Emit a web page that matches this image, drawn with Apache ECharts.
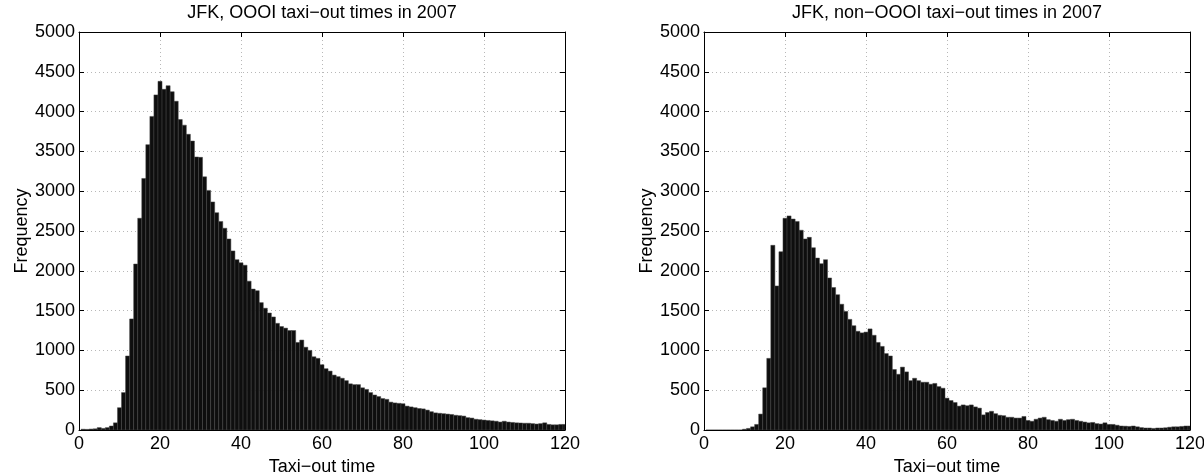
<!DOCTYPE html>
<html>
<head>
<meta charset="utf-8">
<script src="https://cdn.jsdelivr.net/npm/echarts@6/dist/echarts.min.js"></script>
<style>
  html, body { margin: 0; padding: 0; background: #ffffff; }
  #chart { width: 1204px; height: 474px; }
</style>
</head>
<body>
<div id="chart"></div>
<script>
// Histogram bins: one-minute bins centred on whole minutes
const binCenters = [
  1, 2, 3, 4, 5, 6, 7, 8, 9, 10, 11, 12, 13, 14, 15, 16, 17, 18, 19, 20,
  21, 22, 23, 24, 25, 26, 27, 28, 29, 30, 31, 32, 33, 34, 35, 36, 37, 38, 39, 40,
  41, 42, 43, 44, 45, 46, 47, 48, 49, 50, 51, 52, 53, 54, 55, 56, 57, 58, 59, 60,
  61, 62, 63, 64, 65, 66, 67, 68, 69, 70, 71, 72, 73, 74, 75, 76, 77, 78, 79, 80,
  81, 82, 83, 84, 85, 86, 87, 88, 89, 90, 91, 92, 93, 94, 95, 96, 97, 98, 99, 100,
  101, 102, 103, 104, 105, 106, 107, 108, 109, 110, 111, 112, 113, 114, 115, 116, 117, 118, 119, 120
];

// OOOI taxi-out frequencies
const oooiCounts = [
  10, 8, 12, 15, 30, 20, 30, 50, 90, 280, 470, 930, 1395, 2085, 2660, 3160, 3585, 3940, 4210, 4380,
  4280, 4325, 4250, 4130, 3900, 3830, 3715, 3630, 3430, 3425, 3180, 3010, 2865, 2730, 2620, 2535, 2400, 2250, 2140, 2100,
  2070, 1870, 1770, 1750, 1600, 1530, 1470, 1420, 1340, 1300, 1280, 1250, 1250, 1100, 1130, 1040, 1000, 920, 900, 820,
  770, 740, 690, 670, 650, 620, 580, 570, 570, 530, 510, 470, 440, 420, 395, 385, 350, 340, 335, 330,
  300, 290, 280, 270, 265, 250, 230, 215, 210, 205, 200, 195, 185, 180, 175, 155, 150, 135, 130, 125,
  120, 115, 110, 100, 110, 100, 95, 90, 88, 85, 85, 80, 75, 80, 90, 70, 65, 65, 70, 70
];

// non-OOOI taxi-out frequencies
const nonOooiCounts = [
  0, 0, 0, 0, 0, 0, 0, 0, 0, 10, 20, 40, 70, 200, 530, 900, 2320, 1810, 2240, 2660,
  2690, 2650, 2620, 2510, 2400, 2420, 2290, 2160, 2090, 2140, 1910, 1790, 1700, 1580, 1490, 1390, 1310, 1240, 1220, 1230,
  1270, 1190, 1100, 1050, 960, 930, 760, 700, 790, 730, 620, 650, 620, 600, 600, 575, 585, 545, 525, 400,
  370, 345, 300, 315, 305, 315, 290, 275, 190, 220, 235, 205, 185, 180, 160, 160, 150, 150, 170, 120,
  110, 135, 150, 160, 130, 120, 110, 135, 120, 130, 135, 120, 110, 100, 90, 95, 80, 75, 90, 70,
  70, 60, 50, 48, 45, 50, 40, 30, 25, 25, 20, 25, 25, 28, 35, 40, 40, 45, 50, 50
];

const xTicks = [0, 20, 40, 60, 80, 100, 120];
const yTicks = [0, 500, 1000, 1500, 2000, 2500, 3000, 3500, 4000, 4500, 5000];

const panelTitles = ['JFK, OOOI taxi\u2212out times in 2007', 'JFK, non\u2212OOOI taxi\u2212out times in 2007'];
const xName = 'Taxi\u2212out time';
const yName = 'Frequency';

const FONT = 'Liberation Sans, Arial, Helvetica, sans-serif';
const FS = 18;
const panels = [
  { left: 79, width: 486, counts: oooiCounts },
  { left: 704, width: 486, counts: nonOooiCounts }
];
const TOP = 32, HEIGHT = 398;

const xMin = xTicks[0], xMax = xTicks[xTicks.length - 1], xStep = xTicks[1] - xTicks[0];
const yMin = yTicks[0], yMax = yTicks[yTicks.length - 1], yStep = yTicks[1] - yTicks[0];

const grids = [], xAxes = [], yAxes = [], series = [], titles = [];

panels.forEach((p, i) => {
  grids.push({
    left: p.left, top: TOP, width: p.width, height: HEIGHT,
    containLabel: false, outerBoundsMode: 'none'
  });
  titles.push({
    text: panelTitles[i], left: p.left + p.width / 2, top: 4, padding: 0, textAlign: 'center',
    textStyle: { fontFamily: FONT, fontSize: FS, fontWeight: 'normal', color: '#000' }
  });
  const tickCommon = { show: true, inside: true, length: 5, lineStyle: { color: '#000', width: 1 } };
  // bottom x axis with labels and dotted grid
  xAxes.push({
    gridIndex: i, type: 'value', position: 'bottom', min: xMin, max: xMax, interval: xStep,
    name: xName, nameLocation: 'middle', nameGap: 23,
    nameTextStyle: { fontFamily: FONT, fontSize: FS, color: '#000' },
    axisLine: { show: true, onZero: false, lineStyle: { color: '#000', width: 1 } },
    axisTick: tickCommon,
    axisLabel: { fontFamily: FONT, fontSize: FS, color: '#000', margin: 5 },
    splitLine: { show: true, lineStyle: { color: '#b8b8b8', type: [1, 3], width: 1 } }
  });
  // top x axis: frame line and ticks only
  xAxes.push({
    gridIndex: i, type: 'value', position: 'top', min: xMin, max: xMax, interval: xStep,
    axisLine: { show: true, onZero: false, lineStyle: { color: '#000', width: 1 } },
    axisTick: tickCommon, axisLabel: { show: false }, splitLine: { show: false }
  });
  // left y axis with labels and dotted grid
  yAxes.push({
    gridIndex: i, type: 'value', position: 'left', min: yMin, max: yMax, interval: yStep,
    name: yName, nameLocation: 'middle', nameGap: 48,
    nameTextStyle: { fontFamily: FONT, fontSize: FS, color: '#000' },
    axisLine: { show: true, onZero: false, lineStyle: { color: '#000', width: 1 } },
    axisTick: tickCommon,
    axisLabel: { fontFamily: FONT, fontSize: FS, color: '#000', margin: 4, formatter: v => String(v) },
    splitLine: { show: true, lineStyle: { color: '#b8b8b8', type: [1, 3], width: 1 } }
  });
  // right y axis: frame line and ticks only
  yAxes.push({
    gridIndex: i, type: 'value', position: 'right', min: yMin, max: yMax, interval: yStep,
    axisLine: { show: true, onZero: false, lineStyle: { color: '#000', width: 1 } },
    axisTick: tickCommon, axisLabel: { show: false }, splitLine: { show: false }
  });

  series.push({
    type: 'custom',
    xAxisIndex: i * 2,
    yAxisIndex: i * 2,
    clip: true,
    data: binCenters.map((c, k) => [c, p.counts[k]]),
    renderItem: function (params, api) {
      const c = api.value(0), v = api.value(1);
      const p0 = api.coord([c - 0.5, v]);
      const p1 = api.coord([c + 0.5, 0]);
      const rect = { x: p0[0], y: p0[1], width: p1[0] - p0[0], height: p1[1] - p0[1] };
      const clipped = echarts.graphic.clipRectByRect(rect, {
        x: params.coordSys.x, y: params.coordSys.y,
        width: params.coordSys.width, height: params.coordSys.height
      });
      if (!clipped) return null;
      return {
        type: 'rect', shape: clipped,
        style: { fill: '#0e0e0e', stroke: '#444444', lineWidth: 0.5 }
      };
    },
    z: 3
  });
});

const chart = echarts.init(document.getElementById('chart'), null, { renderer: 'canvas' });
chart.setOption({
  animation: false,
  backgroundColor: '#ffffff',
  title: titles,
  grid: grids,
  xAxis: xAxes,
  yAxis: yAxes,
  series: series
});
</script>
</body>
</html>
